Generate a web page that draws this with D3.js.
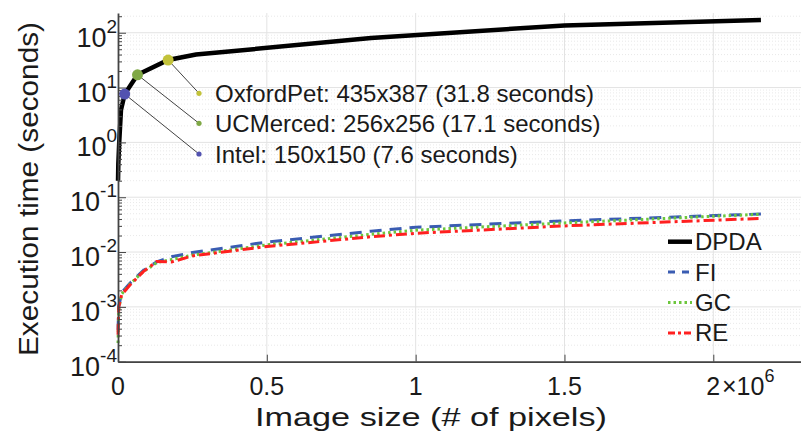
<!DOCTYPE html>
<html>
<head>
<meta charset="utf-8">
<script src="https://cdn.jsdelivr.net/npm/d3@7"></script>
<style>
  body { margin: 0; background: #fff; }
  text { font-family: "Liberation Sans", Arial, Helvetica, sans-serif; fill: #1a1a1a; }
</style>
</head>
<body>
<script>
// DPDA execution time (seconds) vs image size (pixels)
var dpdaSize = [100, 1024, 4096, 10000, 22500, 65536, 168345, 262144, 850000, 1500000, 2160000];
var dpdaTime = [0.2, 0.4, 1.0, 3.9, 7.6, 17.1, 31.8, 40, 80, 136, 170];

// the three other methods share the same sizes
var otherSize = [100, 2500, 12000, 40000, 85000, 130000, 180000, 250000, 500000, 850000, 1000000, 1500000, 2160000];
var fiTime = [3.8e-4, 1.0e-3, 1.8e-3, 2.7e-3, 4.6e-3, 6.6e-3, 8.2e-3, 9.8e-3, 0.0152, 0.024, 0.0283, 0.037, 0.0495];
var gcTime = [2.2e-4, 9.0e-4, 1.7e-3, 2.6e-3, 4.4e-3, 6.4e-3, 7.3e-3, 8.8e-3, 0.0135, 0.021, 0.025, 0.034, 0.049];
var reTime = [3.1e-4, 1.0e-3, 1.65e-3, 2.5e-3, 4.4e-3, 6.7e-3, 6.6e-3, 8.5e-3, 0.0126, 0.019, 0.022, 0.030, 0.041];

// annotated datasets
var dsNames = ["Intel", "UCMerced", "OxfordPet"];
var dsW = [150, 256, 435];
var dsH = [150, 256, 387];
var dsTime = [7.6, 17.1, 31.8];
var dsColors = ["#5252b0", "#7fa845", "#c2c23a"];

var xTicks = [0, 0.5e6, 1e6, 1.5e6, 2e6];
var xTickLabels = ["0", "0.5", "1", "1.5", "2"];
var yTickExps = [-4, -3, -2, -1, 0, 1, 2];

var legendNames = ["DPDA", "FI", "GC", "RE"];

// Set the dimensions
var width = 801, height = 434;
var plot = {left: 118, right: 802.6, top: 13, bottom: 361.7};

var x = d3.scaleLinear().domain([0, 2.3e6]).range([plot.left, plot.right]);
var y = d3.scaleLog().domain([1e-4, Math.pow(10, 2.36)]).range([plot.bottom, plot.top]);

var svg = d3.select("body")
    .append("svg")
        .attr("width", width)
        .attr("height", height);

// minor and major values for log axis
var majorY = yTickExps.map(function(e) { return Math.pow(10, e); });
var minorY = [];
yTickExps.forEach(function(e) {
    for (var k = 2; k <= 9; k++) {
        var v = k * Math.pow(10, e);
        if (v <= y.domain()[1]) minorY.push(v);
    }
});

// grid
var grid = svg.append("g");
grid.selectAll(".minor")
    .data(minorY)
    .enter().append("line")
    .attr("x1", plot.left).attr("x2", plot.right)
    .attr("y1", function(d) { return y(d); }).attr("y2", function(d) { return y(d); })
    .attr("stroke", "#e0e0e0").attr("stroke-width", 0.7)
    .attr("stroke-dasharray", "1,2");
grid.selectAll(".majory")
    .data(majorY)
    .enter().append("line")
    .attr("x1", plot.left).attr("x2", plot.right)
    .attr("y1", function(d) { return y(d); }).attr("y2", function(d) { return y(d); })
    .attr("stroke", "#e3e3e3").attr("stroke-width", 1);
grid.selectAll(".majorx")
    .data(xTicks.slice(1))
    .enter().append("line")
    .attr("x1", function(d) { return x(d); }).attr("x2", function(d) { return x(d); })
    .attr("y1", plot.top).attr("y2", plot.bottom)
    .attr("stroke", "#e3e3e3").attr("stroke-width", 1);

// Define the lines
var lineOf = function(xs) {
    return d3.line()
        .x(function(d, i) { return x(xs[i]); })
        .y(function(d) { return y(d); });
};

svg.append("path")
    .attr("d", lineOf(otherSize)(fiTime))
    .attr("fill", "none").attr("stroke", "#3a5cb2").attr("stroke-width", 3)
    .attr("stroke-dasharray", "12,8");
svg.append("path")
    .attr("d", lineOf(otherSize)(gcTime))
    .attr("fill", "none").attr("stroke", "#6cc63c").attr("stroke-width", 3)
    .attr("stroke-dasharray", "2.5,3");
svg.append("path")
    .attr("d", lineOf(otherSize)(reTime))
    .attr("fill", "none").attr("stroke", "#ff2020").attr("stroke-width", 3)
    .attr("stroke-dasharray", "11,4,3,4");
svg.append("path")
    .attr("d", lineOf(dpdaSize)(dpdaTime))
    .attr("fill", "none").attr("stroke", "#000").attr("stroke-width", 4.5);

// Add the X Axis
var xAxis = d3.axisBottom(x).tickValues(xTicks).tickSize(-7).tickSizeOuter(0).tickFormat("");
svg.append("g")
    .attr("transform", "translate(0," + plot.bottom + ")")
    .call(xAxis);

// Add the Y Axis
var yAxis = d3.axisLeft(y).tickValues(majorY).tickSize(-8).tickSizeOuter(0).tickFormat("");
svg.append("g")
    .attr("transform", "translate(" + plot.left + ",0)")
    .call(yAxis);
var yMinor = d3.axisLeft(y).tickValues(minorY).tickSize(-4).tickSizeOuter(0).tickFormat("");
svg.append("g")
    .attr("transform", "translate(" + plot.left + ",0)")
    .call(yMinor)
    .select(".domain").remove();

svg.selectAll(".domain").attr("stroke", "#444").attr("stroke-width", 1.8);
svg.selectAll(".tick line").attr("stroke", "#444").attr("stroke-width", 1);

// tick labels
svg.selectAll(".xlab")
    .data(xTicks)
    .enter().append("text")
    .attr("x", function(d) { return x(d); })
    .attr("y", 395)
    .attr("text-anchor", "middle")
    .style("font-size", "25px")
    .text(function(d, i) { return xTickLabels[i]; });

var exp = svg.append("text")
    .attr("x", 722).attr("y", 395)
    .style("font-size", "25px");
exp.append("tspan").text("\u00d710");
exp.append("tspan").attr("dy", -13).style("font-size", "18px").text("6");

var ylab = svg.selectAll(".ylab")
    .data(yTickExps)
    .enter().append("text")
    .attr("x", 117)
    .attr("y", function(d) { return y(Math.pow(10, d)) + 14; })
    .attr("text-anchor", "end")
    .style("font-size", "27px");
ylab.append("tspan").text("10");
ylab.append("tspan").attr("dy", -14).style("font-size", "19px")
    .text(function(d) { return d; });

// axis titles (the source font is wider than Liberation Sans)
svg.append("text")
    .attr("x", 431).attr("y", 426)
    .attr("text-anchor", "middle")
    .attr("textLength", 352)
    .attr("lengthAdjust", "spacingAndGlyphs")
    .style("font-size", "25px")
    .text("Image size (# of pixels)");

svg.append("text")
    .attr("transform", "translate(38,189) rotate(-90)")
    .attr("text-anchor", "middle")
    .attr("textLength", 334)
    .attr("lengthAdjust", "spacingAndGlyphs")
    .style("font-size", "27px")
    .text("Execution time (seconds)");

// dataset annotations
var labelY = [154, 123.3, 93.3];
var ann = svg.selectAll(".ann")
    .data(dsNames)
    .enter().append("g");
ann.append("line")
    .attr("x1", function(d, i) { return x(dsW[i] * dsH[i]); })
    .attr("y1", function(d, i) { return y(dsTime[i]); })
    .attr("x2", 199)
    .attr("y2", function(d, i) { return labelY[i]; })
    .attr("stroke", "#111").attr("stroke-width", 0.8);
ann.append("circle")
    .attr("cx", function(d, i) { return x(dsW[i] * dsH[i]); })
    .attr("cy", function(d, i) { return y(dsTime[i]); })
    .attr("r", 5.5)
    .attr("fill", function(d, i) { return dsColors[i]; });
ann.append("circle")
    .attr("cx", 199)
    .attr("cy", function(d, i) { return labelY[i]; })
    .attr("r", 2.6)
    .attr("fill", function(d, i) { return dsColors[i]; });
ann.append("text")
    .attr("x", 215)
    .attr("y", function(d, i) { return labelY[i] + 8.5; })
    .style("font-size", "24px")
    .text(function(d, i) {
        return d + ": " + dsW[i] + "x" + dsH[i] + " (" + dsTime[i] + " seconds)";
    });

// legend
var legStyles = [
    {stroke: "#000", width: 4.5, dash: null},
    {stroke: "#3a5cb2", width: 3, dash: "7,7"},
    {stroke: "#6cc63c", width: 3, dash: "2.5,3"},
    {stroke: "#ff2020", width: 3, dash: "7,3,3,3"}
];
var leg = svg.selectAll(".leg")
    .data(legendNames)
    .enter().append("g")
    .attr("transform", function(d, i) { return "translate(0," + (241.7 + i * 30.4) + ")"; });
leg.append("line")
    .attr("x1", 668).attr("x2", 692)
    .attr("stroke", function(d, i) { return legStyles[i].stroke; })
    .attr("stroke-width", function(d, i) { return legStyles[i].width; })
    .attr("stroke-dasharray", function(d, i) { return legStyles[i].dash; });
leg.append("text")
    .attr("x", 695).attr("y", 8.5)
    .style("font-size", "24px")
    .text(function(d) { return d; });
</script>
</body>
</html>
